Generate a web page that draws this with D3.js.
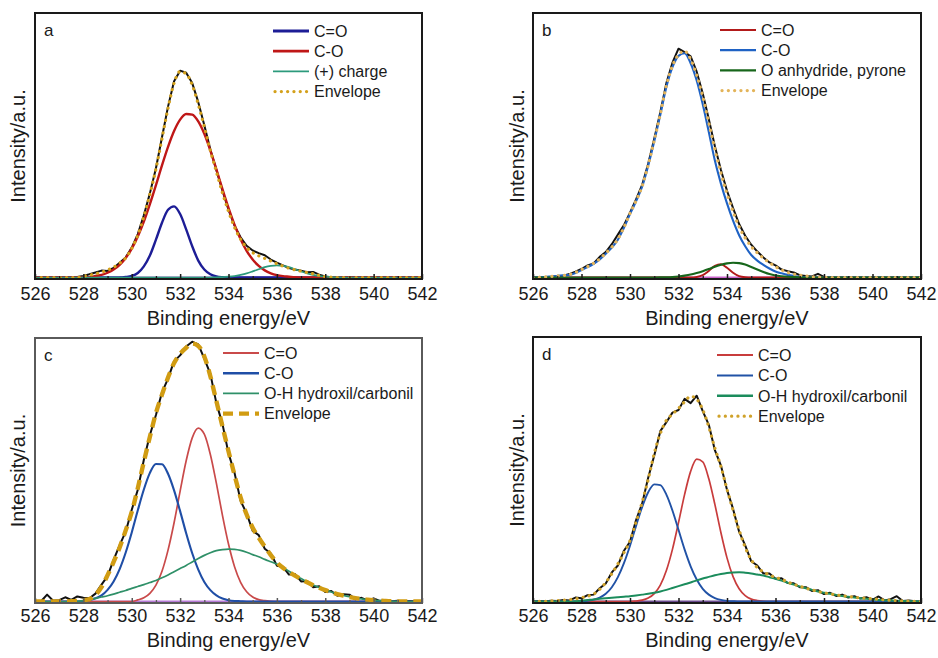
<!DOCTYPE html>
<html><head><meta charset="utf-8">
<script src="https://cdn.jsdelivr.net/npm/d3@7"></script>
<style>body{margin:0;background:#fff}svg{display:block;font-family:"Liberation Sans",Arial,Helvetica,sans-serif}</style>
</head><body><svg id="chart" width="938" height="658"></svg>
<script>
// Binding energy grid (eV), one value every 0.25 eV from 526 to 542
const energy = d3.range(526, 542.001, 0.25);
const tickMajor = [526, 528, 530, 532, 534, 536, 538, 540, 542];
const tickMinor = [527, 529, 531, 533, 535, 537, 539, 541];
const xTitle = "Binding energy/eV";
const yTitle = "Intensity/a.u.";

// ---------- panel a ----------
const a_names = ["C=O", "C-O", "(+) charge", "Envelope"];
const a_CeqO = [0,0,0,0,0,0,0,0, 0,0,0,0,0,0,0,0.2, 0.6,1.7,4.2,8.3,14.3,20.7,25.6,26.9, 24.0,18.2,11.8,6.4,3.0,1.2,0.4,0.1, 0,0,0,0,0,0,0,0, 0,0,0,0,0,0,0,0, 0,0,0,0,0,0,0,0, 0,0,0,0,0,0,0,0, 0];
const a_CO = [0,0,0,0,0,0,0,0, 0,0,0.6,1.0,1.8,3.0,4.8,7.4, 10.9,15.5,21.1,27.7,34.9,42.4,49.4,55.4, 59.7,61.8,61.6,59.0,54.3,48.0,40.9,33.4, 26.3,19.9,14.5,10.1,6.8,4.4,2.7,1.6, 0.9,0.5,0.3,0.1,0,0,0,0, 0,0,0,0,0,0,0,0, 0,0,0,0,0,0,0,0, 0];
const a_charge = [0,0,0,0,0,0,0,0, 0,0,0,0,0,0,0,0, 0,0,0,0,0,0,0,0, 0,0,0,0,0,0,0.1,0.14, 0.3,0.55,1.0,1.56,2.3,3.1,3.9,4.4, 4.6,4.4,3.9,3.1,2.3,1.56,1.0,0.55, 0.3,0.14,0.06,0,0,0,0,0, 0,0,0,0,0,0,0,0, 0];
const a_env = [0,0,0,0,0,0,0,0, 0.5,0.9,1.4,2.0,2.8,3.9,5.4,7.4, 11,16,23,31.5,41,52.5,64,73.5, 77.9,77,72.8,65.5,57,48,40,32, 25,19,14.5,11.3,9.4,8.2,7.2,6.2, 5.2,4.3,3.5,2.9,2.4,1.9,1.4,0.8, 0.3,0.1,0,0,0,0,0,0, 0,0,0,0,0,0,0,0, 0];
const a_exp = [0,0,0,0,0,0,0.1,0.2, 0.6,1.2,1.9,2.6,2.5,3.6,5.6,7.6, 11.3,16.4,23.5,31.8,41.3,53.0,64.6,74.2, 78.2,77.4,73.5,66.3,57.6,48.4,40.6,32.8, 25.6,19.6,15.2,12.0,10.2,9.2,8.4,6.8, 5.6,4.6,3.6,3.0,2.6,2.0,2.1,1.1, 0.4,0.1,0,0,0,0,0,0, 0,0,0,0,0,0,0,0, 0];
const a_bg = [null,null,null,null,null,null,null,null, null,null,null,null,null,null,0,0, 0,0,0,0,0,0,0,0, 0,0,0,0,0,0,0,0, 0,0,0,0,0,0,0,0, 0,0,0,0,0,null,null,null, null,null,null,null,null,null,null,null, null,null,null,null,null,null,null,null, null];

// ---------- panel b ----------
const b_names = ["C=O", "C-O", "O anhydride, pyrone", "Envelope"];
const b_CeqO = [0,0,0,0,0,0,0,0, 0,0,0,0,0,0,0,0, 0,0,0,0,0,0,0,0, 0,0,0,0.2,0.9,2.5,4.4,5.0, 3.7,1.8,0.5,0.1,0,0,0,0, 0,0,0,0,0,0,0,0, 0,0,0,0,0,0,0,0, 0,0,0,0,0,0,0,0, 0];
const b_CO = [0,0.1,0.2,0.4,0.6,0.8,1.0,1.7, 2.8,3.9,5.2,6.8,9.0,11.3,14.3,18.8, 24.0,28.8,34.3,42.3,51.5,61.5,72,79.5, 83.8,84.8,81,74.5,65.5,55,44.2,35.5, 28,21.5,16,11.8,8.5,6.4,4.8,3.4, 2.3,1.6,1.0,0.6,0.3,0.15,0.05,0, 0,0,0,0,0,0,0,0, 0,0,0,0,0,0,0,0, 0];
const b_anh = [0,0,0,0,0,0,0,0, 0,0,0,0,0,0,0,0, 0,0,0,0,0.02,0.05,0.1,0.2, 0.4,0.7,1.1,1.7,2.4,3.2,4.1,4.8, 5.35,5.6,5.45,4.9,4.0,3.0,2.1,1.3, 0.76,0.46,0.26,0.15,0.05,0,0,0, 0,0,0,0,0,0,0,0, 0,0,0,0,0,0,0,0, 0];
const b_env = [0,0.1,0.2,0.4,0.6,0.8,1.1,1.9, 3.0,4.1,5.4,7.0,9.2,11.5,14.5,19.0, 24.2,29,34.5,42.5,51.8,61.8,72.5,80, 84.2,85.6,82.5,76.5,68.5,58.5,48.5,39.5, 31.7,25,19.2,15,11.7,9.3,7.3,5.6, 4.1,2.9,1.9,1.3,0.9,0.6,0.3,0.2, 0.1,0,0,0,0,0,0,0, 0,0,0,0,0,0,0,0, 0];
const b_exp = [0,0,0.2,0.3,0.5,0.7,1.3,2.2, 3.2,4.6,5.3,7.8,9.6,12.6,16.2,19.8, 24.5,29.5,35,43,52.5,62.5,73.5,81.2, 86.5,85.2,83.6,77.8,69.6,59.8,49.6,40.6, 32.8,26.2,20.2,15.8,12.4,9.8,7.6,5.7, 4.6,3.0,2.4,1.9,0.9,0.6,0.4,1.4, 0.2,0,0,0,0,0,0,0, 0,0,0,0,0,0,0,0, 0];
const b_bg = [null,null,null,null,null,null,0,0, 0,0,0,0,0,0,0,0, 0,0,0,0,0,0,0,0, 0,0,0,0,0,0,0,0, 0,0,0,0,0,0,0,0, 0,0,0,0,0,0,0,0, 0,null,null,null,null,null,null,null, null,null,null,null,null,null,null,null, null];

// ---------- panel c ----------
const c_names = ["C=O", "C-O", "O-H hydroxil/carbonil", "Envelope"];
const c_CeqO = [0,0,0,0,0,0,0,0, 0,0,0,0,0,0,0,0, 0,0.6,1.4,3.1,6.2,11.5,19.5,29.9, 41.9,53.4,62.1,65.8,63.5,55.8,44.8,32.7, 21.8,13.2,7.3,3.7,1.7,0.7,0.3,0.1, 0,0,0,0,0,0,0,0, 0,0,0,0,0,0,0,0, 0,0,0,0,0,0,0,0, 0];
const c_CO = [0,0,0,0,0,0,0,0, 0,0.55,1.2,2.3,4.4,7.6,12.3,18.6, 26.2,34.6,42.5,48.8,52.2,52.1,48.5,42.2, 34.3,25.9,18.3,12.1,7.4,4.3,2.3,1.1, 0.5,0.2,0.1,0,0,0,0,0, 0,0,0,0,0,0,0,0, 0,0,0,0,0,0,0,0, 0,0,0,0,0,0,0,0, 0];
const c_OH = [0,0,0,0,0,0,0,0.1, 0.3,0.7,1.2,1.7,2.2,2.8,3.5,4.2, 5.0,5.7,6.4,7.2,8.0,9.0,10.1,11.3, 12.5,13.7,15.0,16.3,17.5,18.5,19.3,19.7, 19.9,19.8,19.4,18.7,17.8,17.0,16.0,15.1, 14.2,12.9,11.5,10.1,8.7,7.4,6.3,5.3, 4.4,3.6,2.9,2.3,1.8,1.4,1.0,0.7, 0.5,0.3,0.2,0.1,0,0,0,0, 0];
const c_env = [0,0,0,0,0,0,0.1,0.2, 0.5,0.9,2.5,5.5,10,15,20.5,27, 34,43,53,62.5,71.5,78.5,85,90.5, 94,96.3,97.9,97,93,85.5,76,66.5, 57,48,39.5,33,28,24.2,20.8,17.6, 14.8,12.8,11.2,9.8,8.5,7.3,6.2,5.2, 4.3,3.5,2.8,2.2,1.7,1.3,1.0,0.7, 0.5,0.35,0.2,0.1,0.05,0,0,0, 0];
const c_exp = [0.2,0.1,2.6,0.3,0.5,1.6,0.6,1.9, 1.4,1.2,3.0,6.4,9.6,15.8,21.4,26.5, 34.8,42.4,53.8,63.2,70.8,79.4,84.6,91.2, 93.4,96.8,98.6,97.6,92.2,86.4,75.2,67.4, 56.2,48.8,38.2,33.4,26.8,25.2,20.0,18.2, 13.6,13.2,10.2,10.4,7.6,7.8,5.4,5.8, 3.6,4.0,2.2,2.8,2.6,0.8,1.4,0.4, 1.2,0.2,0.6,0.1,0.3,0,0.2,0, 0];
const c_bg = [0,0,0,0,0,0,0,0, 0,0,0,0,0,0,0,0, 0,0,0,0,0,0,0,0, 0,0,0,0,0,0,0,0, 0,0,0,0,0,0,0,0, 0,0,0,0,0,0,0,0, 0,0,0,0,0,0,0,0, 0,0,0,0,0,0,0,0, 0];

// ---------- panel d ----------
const d_names = ["C=O", "C-O", "O-H hydroxil/carbonil", "Envelope"];
const d_CeqO = [0,0,0,0,0,0,0,0, 0,0,0,0,0,0,0,0, 0,0.2,0.5,1.3,3.0,6.2,11.7,19.7, 29.8,40.4,49.2,53.8,52.8,46.4,36.7,26.0, 16.5,9.4,4.8,2.2,0.9,0.35,0.1,0, 0,0,0,0,0,0,0,0, 0,0,0,0,0,0,0,0, 0,0,0,0,0,0,0,0, 0];
const d_CO = [0,0,0,0,0,0,0,0, 0,0.3,0.7,1.5,2.9,5.4,9.2,14.5, 21.1,28.6,35.7,41.3,44.3,44.0,40.4,34.4, 27.1,19.7,13.3,8.3,4.8,2.6,1.3,0.6, 0.25,0.1,0,0,0,0,0,0, 0,0,0,0,0,0,0,0, 0,0,0,0,0,0,0,0, 0,0,0,0,0,0,0,0, 0];
const d_OH = [0,0,0,0,0,0,0,0.1, 0.3,0.55,0.8,1.0,1.2,1.4,1.6,1.8, 2.0,2.3,2.6,2.9,3.3,3.8,4.4,5.1, 5.8,6.5,7.2,8.0,8.7,9.3,9.9,10.4, 10.8,11.0,11.1,10.9,10.6,10.2,9.8,9.2, 8.6,7.9,7.1,6.4,5.7,5.0,4.4,3.8, 3.3,2.9,2.5,2.1,1.8,1.5,1.2,1.0, 0.8,0.6,0.5,0.4,0.3,0.2,0.1,0.05, 0];
const d_env = [0,0.1,0.1,0.2,0.3,0.5,0.7,1.0, 1.4,2.0,2.8,4.6,7.2,10.5,14.2,18.5, 23.0,30.0,37.5,46.1,56.0,63.5,68.5,70.8, 73.0,75.5,77.6,76.5,72.5,66.0,58.0,51.0, 42.5,34.5,27,20.5,15.8,12.8,11.2,10.0, 9.1,8.4,7.4,6.5,5.8,5.0,4.4,3.8, 3.3,2.9,2.5,2.2,1.9,1.6,1.4,1.2, 1.0,0.8,0.6,0.5,0.3,0.2,0.1,0.05, 0];
const d_exp = [0,0.2,0.1,0.3,0.2,0.6,0.4,1.5, 1.2,2.4,2.6,5.0,6.8,11.0,13.6,19.2, 22.6,30.8,37.0,46.8,55.2,64.4,67.8,71.4, 72.4,76.6,75.0,77.8,72.0,66.8,57.2,51.4, 42.2,35.0,26.4,21.2,15.2,13.6,10.6,10.6, 8.6,8.8,7.0,6.9,5.4,5.4,4.0,4.3, 2.8,3.3,2.1,2.6,1.5,2.0,1.1,1.6, 0.6,1.9,0.4,0.9,2.0,0.2,0.4,0.1, 0];
const d_bg = [null,null,null,null,null,null,null,null, 0,0,0,0,0,0,0,0, 0,0,0,0,0,0,0,0, 0,0,0,0,0,0,0,0, 0,0,0,0,0,0,0,0, 0,0,0,0,0,0,0,0, 0,0,0,0,0,0,0,0, 0,null,null,null,null,null,null,null, null];

// ---------- layout / styles ----------
const dotted = {dash: "0.1,6.2", cap: "round", w: 3.2};
const panels = [
  {label: "a", box: [35, 422, 13, 279], frame: "#1a1a1a", tickDy: 21, titleDy: 46, ylabX: 18,
   leg: [273, 31, 20.2], bg: a_bg, bgColor: "#7a5cb0", exp: a_exp,
   comps: [
     {name: a_names[0], v: a_CeqO, c: "#1d1d96", w: 2.4, lw: 2.8},
     {name: a_names[1], v: a_CO, c: "#bf1717", w: 2.4, lw: 2.8},
     {name: a_names[2], v: a_charge, c: "#2c9a7c", w: 1.7, lw: 1.6}],
   env: {name: a_names[3], v: a_env, c: "#d4a11c", ...dotted}},
  {label: "b", box: [533, 921, 13, 279], frame: "#1a1a1a", tickDy: 21, titleDy: 46, ylabX: 517,
   leg: [720, 30, 20.2], bg: b_bg, bgColor: "#cc66cc", exp: b_exp,
   comps: [
     {name: b_names[0], v: b_CeqO, c: "#b21a1a", w: 1.9, lw: 1.8},
     {name: b_names[1], v: b_CO, c: "#1f62c4", w: 2.1, lw: 2.2},
     {name: b_names[2], v: b_anh, c: "#17661b", w: 2.1, lw: 2.4}],
   env: {name: b_names[3], v: b_env, c: "#e3b45a", ...dotted}},
  {label: "c", box: [35, 422, 338, 603], frame: "#5a5a5a", tickDy: 19, titleDy: 44, ylabX: 18,
   leg: [223, 353, 20.2], bg: c_bg, bgColor: "#b77ad6", exp: c_exp,
   comps: [
     {name: c_names[0], v: c_CeqO, c: "#c94a4a", w: 1.7, lw: 1.8},
     {name: c_names[1], v: c_CO, c: "#1f4ea6", w: 2.1, lw: 2.4},
     {name: c_names[2], v: c_OH, c: "#2f9068", w: 1.7, lw: 1.6}],
   env: {name: c_names[3], v: c_env, c: "#d19c12", dash: "10,6", cap: "butt", w: 4.4}},
  {label: "d", box: [533, 921, 337, 603], frame: "#1a1a1a", tickDy: 19, titleDy: 44, ylabX: 517,
   leg: [717, 355, 20.4], bg: d_bg, bgColor: "#6b4a8e", exp: d_exp,
   comps: [
     {name: d_names[0], v: d_CeqO, c: "#c83c3c", w: 1.7, lw: 1.8},
     {name: d_names[1], v: d_CO, c: "#2152a6", w: 1.9, lw: 2.0},
     {name: d_names[2], v: d_OH, c: "#1b8c5c", w: 2.0, lw: 2.6}],
   env: {name: d_names[3], v: d_env, c: "#d0a22a", ...dotted}}
];

const svg = d3.select("#chart");
const defs = svg.append("defs");

panels.forEach((p, pi) => {
  const [x0, x1, y0, y1] = p.box;
  const x = d3.scaleLinear().domain([526, 542]).range([x0, x1]);
  const y = d3.scaleLinear().domain([0, 100]).range([y1 - 1.5, y0]);
  const g = svg.append("g");
  const clipId = "clip" + pi;
  defs.append("clipPath").attr("id", clipId).append("rect")
    .attr("x", x0).attr("y", y0).attr("width", x1 - x0).attr("height", y1 - y0);
  const plot = g.append("g").attr("clip-path", `url(#${clipId})`);

  const smooth = d3.line().defined(d => d[1] !== null)
    .x(d => x(d[0])).y(d => y(d[1])).curve(d3.curveMonotoneX);
  const straight = d3.line().defined(d => d[1] !== null)
    .x(d => x(d[0])).y(d => y(d[1]));
  const pts = v => energy.map((e, i) => [e, v[i]]);

  plot.append("path").attr("d", straight(pts(p.bg))).attr("fill", "none")
    .attr("stroke", p.bgColor).attr("stroke-width", 2);
  plot.append("path").attr("d", straight(pts(p.exp))).attr("fill", "none")
    .attr("stroke", "#111").attr("stroke-width", 2).attr("stroke-linejoin", "round");
  p.comps.forEach(s => {
    plot.append("path").attr("d", smooth(pts(s.v))).attr("fill", "none")
      .attr("stroke", s.c).attr("stroke-width", s.w);
  });
  plot.append("path").attr("d", smooth(pts(p.env.v))).attr("fill", "none")
    .attr("stroke", p.env.c).attr("stroke-width", p.env.w)
    .attr("stroke-dasharray", p.env.dash).attr("stroke-linecap", p.env.cap);

  g.append("rect").attr("x", x0).attr("y", y0).attr("width", x1 - x0).attr("height", y1 - y0)
    .attr("fill", "none").attr("stroke", p.frame).attr("stroke-width", 2);

  const axis = d3.axisBottom(x).tickValues(tickMajor).tickSize(-5).tickPadding(0).tickFormat(d3.format("d"));
  const ax = g.append("g").attr("transform", `translate(0,${y1})`).call(axis);
  ax.select(".domain").remove();
  ax.selectAll(".tick line").attr("stroke", p.frame).attr("stroke-width", 1.5);
  ax.selectAll(".tick text").attr("y", p.tickDy).attr("dy", null)
    .attr("font-size", 18).attr("fill", "#1a1a1a")
    .style("font-family", '"Liberation Sans", Arial, sans-serif');
  const axm = g.append("g").attr("transform", `translate(0,${y1})`)
    .call(d3.axisBottom(x).tickValues(tickMinor).tickSize(-3).tickFormat(""));
  axm.select(".domain").remove();
  axm.selectAll(".tick line").attr("stroke", p.frame).attr("stroke-width", 1.3);

  g.append("text").attr("x", (x0 + x1) / 2).attr("y", y1 + p.titleDy)
    .attr("text-anchor", "middle").attr("font-size", 20).attr("fill", "#1a1a1a").text(xTitle);
  g.append("text").attr("transform", `translate(${p.ylabX},${(y0 + y1) / 2}) rotate(-90)`)
    .attr("dy", "0.35em").attr("text-anchor", "middle").attr("font-size", 20)
    .attr("fill", "#1a1a1a").text(yTitle);

  g.append("text").attr("x", x0 + 9).attr("y", y0 + 23).attr("font-size", 17)
    .attr("fill", "#1a1a1a").text(p.label);

  const [lx, ly, dy] = p.leg;
  const items = p.comps.map(s => ({name: s.name, c: s.c, w: s.lw, dash: null, cap: "butt"}))
    .concat([{name: p.env.name, c: p.env.c, w: p.env.w, dash: p.env.dash, cap: p.env.cap}]);
  items.forEach((it, i) => {
    const yy = ly + i * dy;
    g.append("line").attr("x1", lx + (it.cap === "round" ? 2 : 0)).attr("x2", lx + 36).attr("y1", yy).attr("y2", yy)
      .attr("stroke", it.c).attr("stroke-width", it.w)
      .attr("stroke-dasharray", it.dash).attr("stroke-linecap", it.cap);
    g.append("text").attr("x", lx + 41).attr("y", yy + 5.8).attr("font-size", 16)
      .attr("fill", "#1a1a1a").text(it.name);
  });
});
</script></body></html>
